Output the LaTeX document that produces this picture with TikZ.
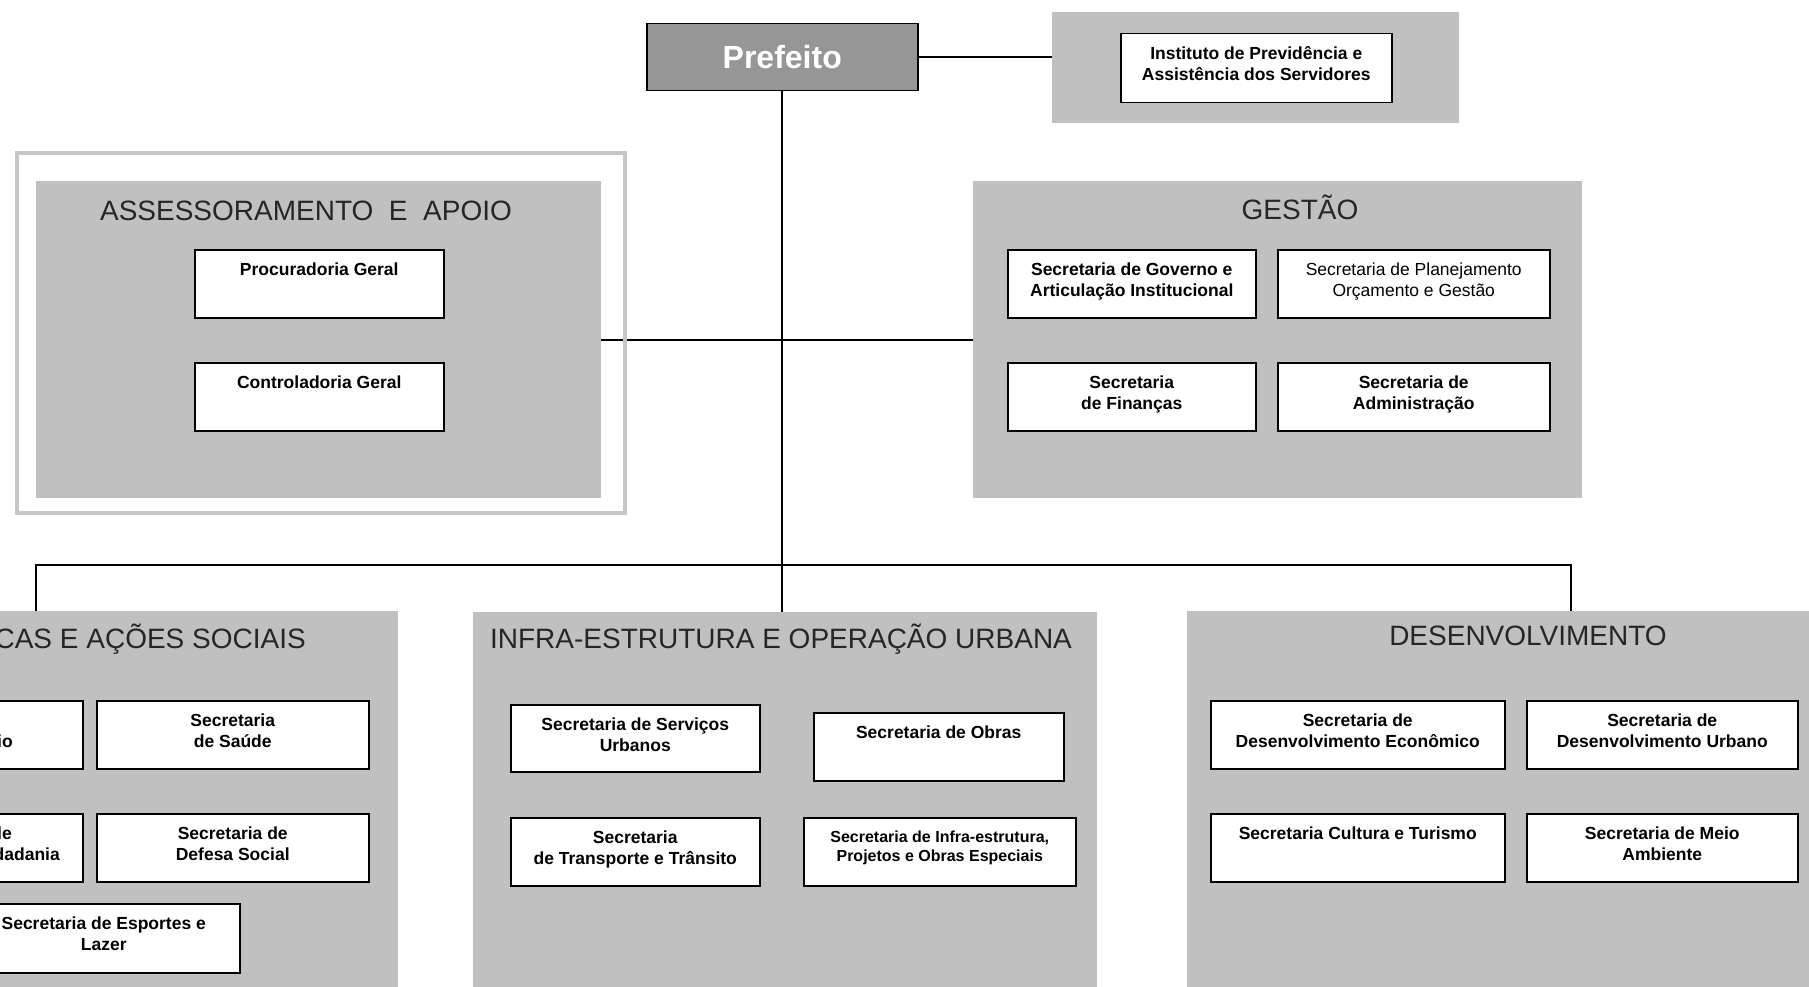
\documentclass[tikz,border=0pt]{standalone}
\usepackage{fontspec}
\setmainfont{Liberation Sans}
\definecolor{panel}{HTML}{C0C0C0}
\definecolor{prefgrey}{HTML}{969696}
\definecolor{outline}{HTML}{C6C6C6}
\newcommand\boxbf{\fontsize{17.5}{20.5}\selectfont\bfseries}
\newcommand\boxrm{\fontsize{17.5}{20.5}\selectfont}
\newcommand\boxsm{\fontsize{16}{19}\selectfont\bfseries}
\newcommand\titlefnt{\fontsize{28}{32}\selectfont}
\tikzset{
 panelbox/.style={fill=panel, draw=none, anchor=north west, inner sep=0pt},
 wbox/.style={draw=black, fill=white, line width=1.5pt, anchor=north west, inner sep=0pt},
 btext/.style={anchor=north, align=center, inner sep=0pt, font=\boxbf},
 ttext/.style={anchor=base, inner sep=0pt, font=\titlefnt, text=black!85},
 conn/.style={draw=black, line width=1.6pt},
}
\newcommand\orgbox[7][\boxbf]{%
  \node[wbox, minimum width=#5pt, minimum height=#6pt] (#2) at (#3,#4) {};
  \node[btext, font=#1] (#2-t) at ([yshift=-12pt]#2.north) {\strut #7};
}
\begin{document}
\begin{tikzpicture}[x=1pt,y=-1pt]
\useasboundingbox (0,0) rectangle (1809,987);
\clip (0,0) rectangle (1809,987);
\fill[white] (0,0) rectangle (1809,987);
% panels
\node[panelbox, minimum width=407pt, minimum height=111pt] (instg) at (1052,12) {};
\node[panelbox, minimum width=565pt, minimum height=317pt] (assg) at (36,181) {};
\node[panelbox, minimum width=609pt, minimum height=317pt] (gesg) at (973,181) {};
\node[panelbox, minimum width=460pt, minimum height=400pt] (socg) at (-62,611) {};
\node[panelbox, minimum width=624pt, minimum height=400pt] (infg) at (473,612) {};
\node[panelbox, minimum width=700pt, minimum height=400pt] (desg) at (1187,611) {};
% prefeito
\node[draw=black, line width=1.5pt, fill=prefgrey, anchor=north west, minimum width=271pt, minimum height=67pt, inner sep=0pt, font=\fontsize{32}{36}\selectfont\bfseries, text=white] (pref) at (646,23) {Prefeito};
% connectors
\coordinate (busL) at (36,565);
\coordinate (busR) at (1571,565);
\draw[conn] (pref.south) -- (pref.south |- infg.north);
\draw[conn] (pref.east) -- (instg.west |- pref.east);
\draw[conn] (assg.east) -- (gesg.west);
\draw[conn] (socg.north -| busL) -- (busL) -- (busR) -- (desg.north -| busR);
% outer frame of assessoramento
\node[draw=outline, line width=4pt, anchor=north west, minimum width=608.5pt, minimum height=360pt, inner sep=0pt] (assout) at (14.5,151) {};
% titles
\node[ttext] (assT) at (306,220) {ASSESSORAMENTO\ \ E\ \ APOIO};
\node[ttext] (gesT) at (1300,219) {GESTÃO};
\node[ttext, anchor=base east] (socT) at (306,648) {CAS E AÇÕES SOCIAIS};
\node[ttext] (infT) at (781,648) {INFRA-ESTRUTURA E OPERAÇÃO URBANA};
\node[ttext] (desT) at (1528,645) {DESENVOLVIMENTO};
% boxes
\orgbox{inst}{1120}{33}{271}{69}{Instituto de Previdência e\\Assistência dos Servidores}
\orgbox{proc}{194}{249}{249}{68}{Procuradoria Geral}
\orgbox{contr}{194}{362}{249}{68}{Controladoria Geral}
\orgbox{gov}{1007}{249}{248}{68}{Secretaria de Governo e\\Articulação Institucional}
\orgbox[\boxrm]{plan}{1277}{249}{272}{68}{Secretaria de Planejamento\\Orçamento e Gestão}
\orgbox{fin}{1007}{362}{248}{68}{Secretaria\\de Finanças}
\orgbox{adm}{1277}{362}{272}{68}{Secretaria de\\Administração}
\orgbox{socA}{-190}{700}{272}{68}{}
\orgbox{saude}{96}{700}{272}{68}{Secretaria\\de Saúde}
\orgbox{socB}{-190}{813}{272}{68}{}
\orgbox{defesa}{96}{813}{272}{68}{Secretaria de\\Defesa Social}
\orgbox{esp}{-33}{903}{272}{69}{Secretaria de Esportes e\\Lazer}
\node[btext, anchor=base east] (socA-f) at (13,747) {io};
\node[btext, anchor=base east] (socB-f1) at (12,839.5) {le};
\node[btext, anchor=base east] (socB-f2) at (60,860) {dadania};
\orgbox{serv}{510}{704}{249}{67}{Secretaria de Serviços\\Urbanos}
\orgbox{obras}{813}{712}{250}{68}{Secretaria de Obras}
\orgbox{transp}{510}{817}{249}{68}{Secretaria\\de Transporte e Trânsito}
\orgbox[\boxsm]{infesp}{803}{817}{272}{68}{Secretaria de Infra-estrutura,\\Projetos e Obras Especiais}
\orgbox{econ}{1210}{700}{294}{68}{Secretaria de\\Desenvolvimento Econômico}
\orgbox{urb}{1526}{700}{271}{68}{Secretaria de\\Desenvolvimento Urbano}
\orgbox{cult}{1210}{813}{294}{68}{Secretaria Cultura e Turismo}
\orgbox{meio}{1526}{813}{271}{68}{Secretaria de Meio\\Ambiente}
\end{tikzpicture}
\end{document}
